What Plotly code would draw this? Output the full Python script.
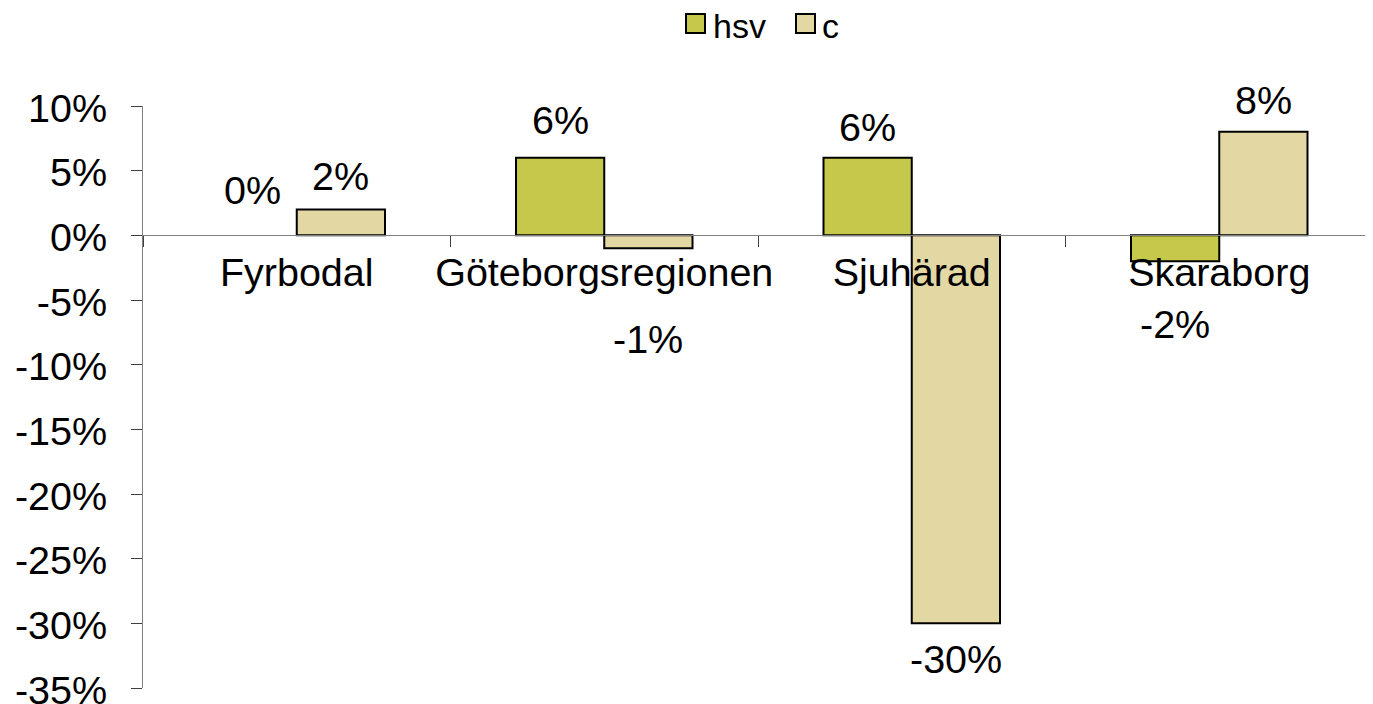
import plotly.graph_objects as go

categories = ["Fyrbodal", "Göteborgsregionen", "Sjuhärad", "Skaraborg"]
hsv_values = [0, 6, 6, -2]
c_values = [2, -1, -30, 8]
y_ticks = [10, 5, 0, -5, -10, -15, -20, -25, -30, -35]

# style: vertical label offsets (px) mimicking the original label placement
hsv_label_shift = [45, 38, 31, -63]
c_label_shift = [33, -91, -36, 32]

FONT = "Liberation Sans, Arial, sans-serif"
FS = 39.5
HSV_COLOR = "#C6C84B"
C_COLOR = "#E3D7A4"
Y_MIN, Y_MAX = -35, 10
OFF = 8  # page body margin in the browser
W, H = 1373 - OFF, 704 - OFF
ML, MR, MT, MB = 143 - OFF, 0, 106 - OFF, 704 - 688
plot_w = W - ML - MR
plot_h = H - MT - MB


def px_x(px):
    return (px - OFF - ML) / plot_w


def px_y(py):
    return (H - MB - (py - OFF)) / plot_h


fig = go.Figure()
for name, vals, color in (("hsv", hsv_values, HSV_COLOR), ("c", c_values, C_COLOR)):
    fig.add_trace(go.Bar(name=name, x=categories, y=vals,
                         marker=dict(color=color,
                                     line=dict(color="black",
                                               width=[0 if v == 0 else 2 for v in vals]))))

bargap = 0.426
bar_px = plot_w / len(categories) * (1 - bargap) / 2

annotations = []
for series, shifts, side in ((hsv_values, hsv_label_shift, -1), (c_values, c_label_shift, 1)):
    for cat, v, s in zip(categories, series, shifts):
        annotations.append(dict(x=cat, y=v, text=f"{v}%", showarrow=False,
                                xshift=side * bar_px / 2, yshift=s,
                                xanchor="center", yanchor="middle",
                                font=dict(size=FS, color="black", family=FONT)))

# custom legend (larger square symbols like the original)
shapes = []
legend_items = [("hsv", HSV_COLOR, 686, 711), ("c", C_COLOR, 796, 820)]
for name, color, sq_left, txt_left in legend_items:
    shapes.append(dict(type="rect", xref="paper", yref="paper",
                       x0=px_x(sq_left), x1=px_x(sq_left + 19),
                       y0=px_y(33), y1=px_y(14),
                       fillcolor=color, line=dict(color="black", width=2)))
    annotations.append(dict(xref="paper", yref="paper", x=px_x(txt_left), y=px_y(26),
                            text=name, showarrow=False, xanchor="left", yanchor="middle",
                            font=dict(size=34, color="black", family=FONT)))

fig.update_layout(
    width=W, height=H,
    margin=dict(l=ML, r=MR, t=MT, b=MB, autoexpand=False),
    paper_bgcolor="white", plot_bgcolor="white",
    barmode="group", bargap=bargap, bargroupgap=0,
    font=dict(family=FONT, color="black"),
    showlegend=False,
    annotations=annotations,
    shapes=shapes,
    xaxis=dict(anchor="free", position=(0 - Y_MIN) / (Y_MAX - Y_MIN),
               showline=True, linecolor="#808080", linewidth=1,
               ticks="outside", tickson="boundaries", ticklen=11, tickcolor="#404040",
               tickangle=0, automargin=False, ticklabelstandoff=2,
               tickfont=dict(size=FS, family=FONT, color="black"),
               showgrid=False, zeroline=False),
    yaxis=dict(range=[Y_MIN, Y_MAX], tickmode="array", tickvals=y_ticks,
               ticktext=[f"{t}%" for t in y_ticks], automargin=False,
               showline=True, linecolor="#808080", linewidth=1,
               ticks="outside", ticklen=11, tickcolor="#404040",
               tickfont=dict(size=FS, family=FONT, color="black"),
               ticklabelstandoff=16, ticklabelshift=2, ticklabeloverflow="allow",
               showgrid=False, zeroline=False),
)

fig.write_html("out.html")
